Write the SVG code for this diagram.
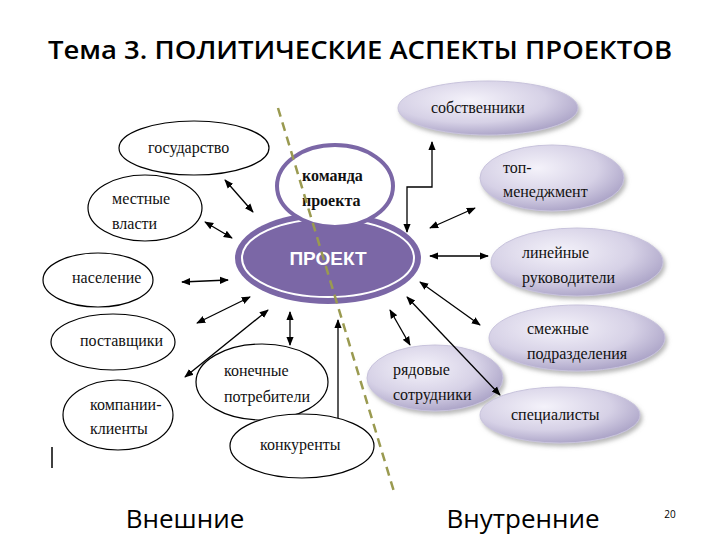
<svg xmlns="http://www.w3.org/2000/svg" width="720" height="540" viewBox="0 0 720 540">
<defs>
<radialGradient id="lav" cx="0.4" cy="0.35" r="0.7">
<stop offset="0" stop-color="#f4f2fa"/><stop offset="0.6" stop-color="#d6d1e6"/><stop offset="1" stop-color="#a79fc4"/>
</radialGradient>
<filter id="sh" x="-20%" y="-20%" width="140%" height="150%"><feDropShadow dx="2" dy="3" stdDeviation="2" flood-color="#888" flood-opacity="0.6"/></filter>
<marker id="a" viewBox="0 0 10 10" refX="9" refY="5" markerWidth="7" markerHeight="7" orient="auto-start-reverse"><path d="M0,1 L10,5 L0,9 z" fill="#000"/></marker>
</defs>
<style>
.w{fill:#fff;stroke:#000;stroke-width:1.2}
.r{fill:url(#lav);stroke:#c8c3dc;stroke-width:1;filter:url(#sh)}
.t{font-family:"Liberation Serif",serif;font-size:16px;fill:#111}
.c{stroke:#000;stroke-width:1.3;fill:none;marker-start:url(#a);marker-end:url(#a)}
.s{stroke:#000;stroke-width:1.3;fill:none;marker-end:url(#a)}
.h{font-family:"Open Sans","Liberation Sans",sans-serif;fill:#000}
</style>
<rect width="720" height="540" fill="#fff"/>
<text class="h" x="360" y="59" font-size="26" font-weight="600" text-anchor="middle" textLength="624" lengthAdjust="spacingAndGlyphs">Тема 3. ПОЛИТИЧЕСКИЕ АСПЕКТЫ ПРОЕКТОВ</text>

<g id="n-gos"><ellipse class="w" cx="194" cy="148" rx="75" ry="27"/><text class="t" x="148" y="153">государство</text></g>
<g id="n-mest"><ellipse class="w" cx="145" cy="208" rx="57" ry="33"/><text class="t" x="112" y="204">местные</text><text class="t" x="112" y="229">власти</text></g>
<g id="n-nas"><ellipse class="w" cx="98" cy="280" rx="55" ry="27"/><text class="t" x="72" y="283">население</text></g>
<g id="n-post"><ellipse class="w" cx="113" cy="342" rx="62" ry="28"/><text class="t" x="80" y="346">поставщики</text></g>
<g id="n-komp"><ellipse class="w" cx="118" cy="415" rx="55" ry="35"/><text class="t" x="90" y="410">компании-</text><text class="t" x="90" y="434">клиенты</text></g>
<g id="n-kon"><ellipse class="w" cx="262" cy="382" rx="66" ry="38"/><text class="t" x="224" y="376">конечные</text><text class="t" x="224" y="402">потребители</text></g>
<g id="n-konk"><ellipse class="w" cx="302" cy="446" rx="72" ry="32"/><text class="t" x="260" y="450">конкуренты</text></g>

<g id="n-sob"><ellipse class="r" cx="488" cy="108" rx="90" ry="27"/><text class="t" x="431" y="113">собственники</text></g>
<g id="n-top"><ellipse class="r" cx="552" cy="178" rx="72" ry="33"/><text class="t" x="503" y="173">топ-</text><text class="t" x="503" y="197">менеджмент</text></g>
<g id="n-lin"><ellipse class="r" cx="577" cy="262" rx="86" ry="34"/><text class="t" x="522" y="258">линейные</text><text class="t" x="522" y="283">руководители</text></g>
<g id="n-smezh"><ellipse class="r" cx="577" cy="338" rx="88" ry="33"/><text class="t" x="527" y="334">смежные</text><text class="t" x="527" y="359">подразделения</text></g>
<g id="n-ryad"><ellipse class="r" cx="435" cy="378" rx="68" ry="33"/><text class="t" x="393" y="375">рядовые</text><text class="t" x="393" y="400">сотрудники</text></g>
<g id="n-spec"><ellipse class="r" cx="560" cy="415" rx="80" ry="28"/><text class="t" x="511" y="420">специалисты</text></g>

<g id="n-proekt"><ellipse cx="328" cy="258" rx="93" ry="46" fill="#7b67a6"/><ellipse cx="328" cy="258" rx="86" ry="39" fill="none" stroke="#fff" stroke-width="2"/><text x="328" y="265" text-anchor="middle" font-family="'Liberation Sans',sans-serif" font-weight="bold" font-size="19" fill="#fff">ПРОЕКТ</text></g>
<g id="n-komanda"><ellipse cx="335" cy="186" rx="58" ry="41" fill="#fff" stroke="#7b67a6" stroke-width="4"/><text class="t" x="302" y="181" font-weight="bold" font-size="17">команда</text><text class="t" x="302" y="206" font-weight="bold" font-size="17">проекта</text></g>

<line x1="278" y1="108" x2="395" y2="495" stroke="#9a9a50" stroke-width="2.5" stroke-dasharray="9,6"/>

<g id="connectors">
<line class="c" x1="225" y1="180" x2="253" y2="212"/>
<line class="c" x1="205" y1="222" x2="232" y2="238"/>
<line class="c" x1="182" y1="282" x2="228" y2="280"/>
<line class="c" x1="197" y1="323" x2="250" y2="297"/>
<line class="c" x1="185" y1="377" x2="268" y2="310"/>
<line class="c" x1="290" y1="312" x2="290" y2="345"/>
<line class="s" x1="338" y1="418" x2="338" y2="320"/>
<line class="c" x1="390" y1="310" x2="410" y2="345"/>
<line class="c" x1="420" y1="282" x2="480" y2="325"/>
<line class="c" x1="407" y1="297" x2="500" y2="395"/>
<line class="c" x1="430" y1="256" x2="488" y2="256"/>
<line class="c" x1="430" y1="228" x2="475" y2="208"/>
<polyline class="c" points="407,232 407,187 432,187 432,142"/>
</g>

<line x1="52" y1="447" x2="52" y2="468" stroke="#000" stroke-width="1.5"/>
<text class="h" x="185" y="528" font-size="26" text-anchor="middle">Внешние</text>
<text class="h" x="523" y="528" font-size="26" text-anchor="middle">Внутренние</text>
<text class="h" x="670" y="518" font-size="10" fill="#999" text-anchor="middle">20</text>
</svg>
